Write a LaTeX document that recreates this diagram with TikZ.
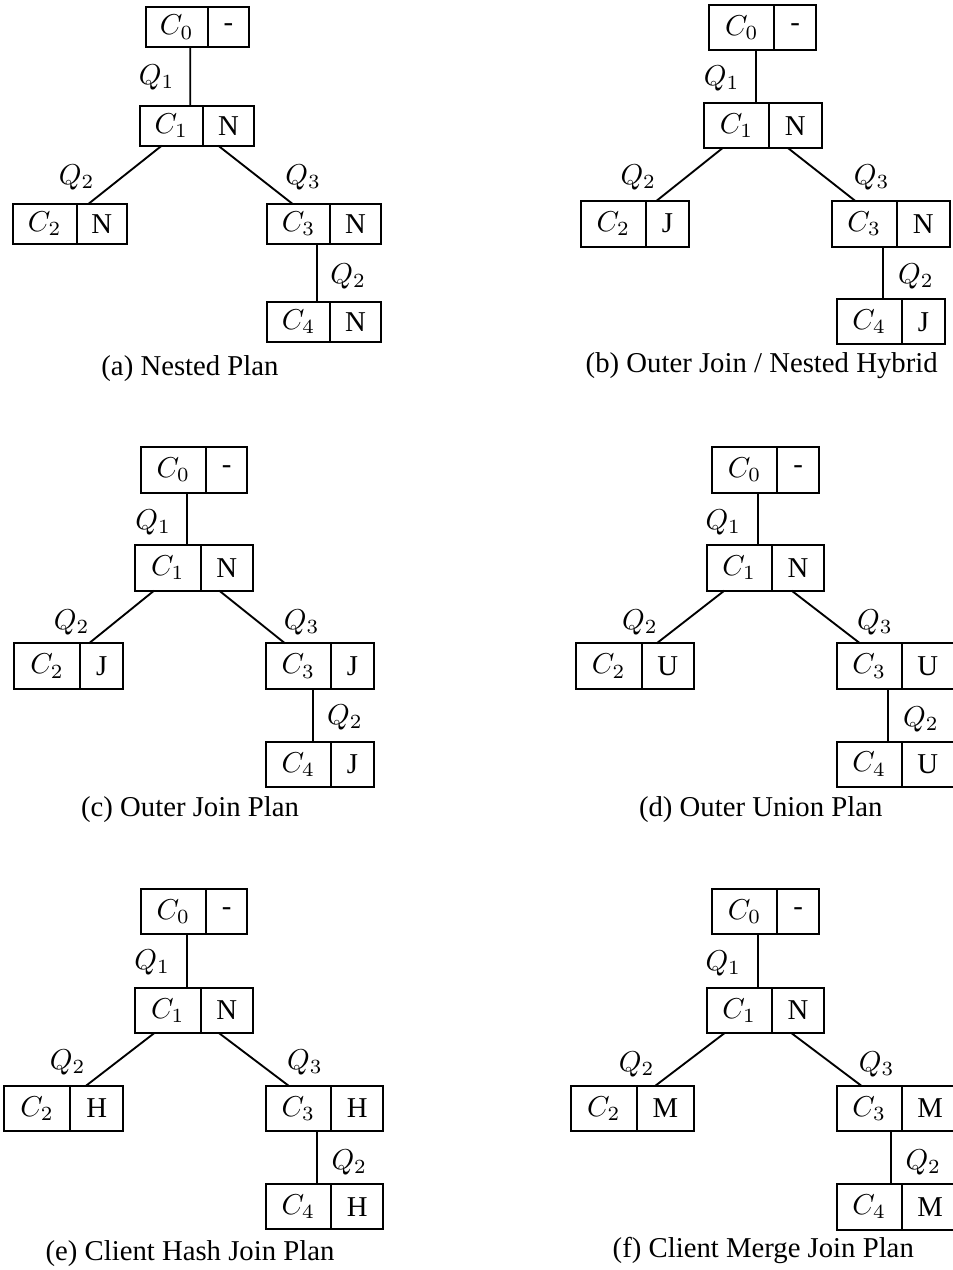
\documentclass[tikz,border=0pt]{standalone}
\usepackage{fontspec}
\setmainfont{Liberation Serif}
\usetikzlibrary{calc}

% one drawing unit
\newcommand\pxu{0.348pt}

\tikzset{
  cell/.style={draw, line width=0.7pt, rectangle, inner sep=0pt, outer sep=0pt,
               anchor=north west, font=\fontsize{10}{12}\selectfont},
  link/.style={line width=0.65pt},
  qlabel/.style={inner sep=0pt, font=\fontsize{10}{12}\selectfont},
  caption/.style={inner sep=0pt, font=\fontsize{10}{12}\selectfont},
}

% \record{name}{x}{y}{left width}{right width}{height}{class}{method}
\newcommand\record[8]{%
  \node[cell, minimum width=#4*\pxu, minimum height=#6*\pxu] (#1) at (#2,#3) {$#7$};
  \node[cell, minimum width=#5*\pxu, minimum height=#6*\pxu] (#1r) at (#1.north east) {#8};
}
% \conn{parent}{offset}{child}{offset}
\newcommand\conn[4]{%
  \draw[link] ($(#1.south west)+(#2,0)$) -- ($(#3.north west)+(#4,0)$);
}

\begin{document}
\begin{tikzpicture}[x=0.348pt, y=-0.348pt]
\useasboundingbox (0,0) rectangle (953,1270);
\clip (0,0) rectangle (953,1270);

% ---------------- (a) Nested Plan ----------------
\record{a0}{145.7}{7.3}{62}{41.3}{39.7}{C_0}{-}
\record{a1}{140}{105.7}{62.7}{51.6}{40}{C_1}{N}
\record{a2}{12.7}{204}{64}{50}{40}{C_2}{N}
\record{a3}{267.3}{204}{62.7}{51}{40}{C_3}{N}
\record{a4}{267.3}{302}{62.7}{51}{40}{C_4}{N}
\conn{a0}{44.6}{a1}{50.3}
\conn{a1}{21.7}{a2}{75.6}
\conn{a1}{78.3}{a3}{25.4}
\conn{a3}{50}{a4}{50}
\node[qlabel] (aq1) at (156.7,77.5) {$Q_1$};
\node[qlabel] (aq2) at (76.7,177.5) {$Q_2$};
\node[qlabel] (aq3) at (303.3,177.5) {$Q_3$};
\node[qlabel] (aq4) at (348.3,276) {$Q_2$};
\node[caption] (acap) at (190,368.3) {(a) Nested Plan};

% ---------------- (b) Outer Join / Nested Hybrid ----------------
\record{b0}{709.3}{4.7}{65}{41.7}{45.3}{C_0}{-}
\record{b1}{704}{103.3}{65}{52.7}{45}{C_1}{N}
\record{b2}{580.7}{200.7}{65.3}{43}{46}{C_2}{J}
\record{b3}{831.7}{200.7}{65}{53.3}{46}{C_3}{N}
\record{b4}{836.7}{299.3}{65}{43.3}{45}{C_4}{J}
\conn{b0}{46.4}{b1}{51.7}
\conn{b1}{18.3}{b2}{76}
\conn{b1}{84.3}{b3}{23.3}
\conn{b3}{51.6}{b4}{46.6}
\node[qlabel] (bq1) at (721.7,78) {$Q_1$};
\node[qlabel] (bq2) at (638.3,177.5) {$Q_2$};
\node[qlabel] (bq3) at (871.7,177.5) {$Q_3$};
\node[qlabel] (bq4) at (916,276.5) {$Q_2$};
\node[caption] (bcap) at (761.7,365.5) {(b) Outer Join / Nested Hybrid};

% ---------------- (c) Outer Join Plan ----------------
\record{c0}{140.7}{446.7}{65.3}{41.3}{46}{C_0}{-}
\record{c1}{135}{545}{65.7}{52}{45.7}{C_1}{N}
\record{c2}{14.3}{643.3}{65.7}{43.3}{45.7}{C_2}{J}
\record{c3}{265.7}{643.3}{65.3}{43}{45.7}{C_3}{J}
\record{c4}{265.7}{741.7}{65.3}{43}{45.7}{C_4}{J}
\conn{c0}{46}{c1}{51.7}
\conn{c1}{19}{c2}{74.7}
\conn{c1}{84.3}{c3}{19.3}
\conn{c3}{47}{c4}{47}
\node[qlabel] (cq1) at (153.3,522) {$Q_1$};
\node[qlabel] (cq2) at (71.7,622.5) {$Q_2$};
\node[qlabel] (cq3) at (301.7,622.5) {$Q_3$};
\node[qlabel] (cq4) at (345,717.5) {$Q_2$};
\node[caption] (ccap) at (190,810) {(c) Outer Join Plan};

% ---------------- (d) Outer Union Plan ----------------
\record{d0}{711.7}{446.7}{65.7}{41.7}{46}{C_0}{-}
\record{d1}{706.7}{545}{65}{52.7}{45.7}{C_1}{N}
\record{d2}{575.7}{643.3}{66}{52.3}{45.7}{C_2}{U}
\record{d3}{836.7}{643.3}{65}{52}{45.7}{C_3}{U}
\record{d4}{836.7}{741.7}{65}{52}{45}{C_4}{U}
\conn{d0}{46}{d1}{51}
\conn{d1}{17.6}{d2}{81}
\conn{d1}{85}{d3}{23.3}
\conn{d3}{51.6}{d4}{51.6}
\node[qlabel] (dq1) at (723.3,522) {$Q_1$};
\node[qlabel] (dq2) at (640,622.5) {$Q_2$};
\node[qlabel] (dq3) at (875,622.5) {$Q_3$};
\node[qlabel] (dq4) at (921,719) {$Q_2$};
\node[caption] (dcap) at (760.7,810) {(d) Outer Union Plan};

% ---------------- (e) Client Hash Join Plan ----------------
\record{e0}{140.7}{889.3}{65.3}{41.3}{45}{C_0}{-}
\record{e1}{135}{987.7}{65.7}{52}{45.6}{C_1}{N}
\record{e2}{4.3}{1086}{65.7}{53.3}{45}{C_2}{H}
\record{e3}{265.7}{1086}{65.3}{52.3}{45}{C_3}{H}
\record{e4}{265.7}{1184}{65.3}{52.3}{45.3}{C_4}{H}
\conn{e0}{46}{e1}{51.7}
\conn{e1}{19}{e2}{81.4}
\conn{e1}{84.3}{e3}{23.3}
\conn{e3}{51.6}{e4}{51.6}
\node[qlabel] (eq1) at (152.3,962.5) {$Q_1$};
\node[qlabel] (eq2) at (67.7,1062.5) {$Q_2$};
\node[qlabel] (eq3) at (305,1062.5) {$Q_3$};
\node[qlabel] (eq4) at (349.3,1162.5) {$Q_2$};
\node[caption] (ecap) at (190,1253.3) {(e) Client Hash Join Plan};

% ---------------- (f) Client Merge Join Plan ----------------
\record{f0}{711.7}{889.3}{65.7}{41.7}{45}{C_0}{-}
\record{f1}{706.7}{987.7}{65}{52.6}{45.6}{C_1}{N}
\record{f2}{571}{1086}{65.7}{57.3}{45}{C_2}{M}
\record{f3}{836.7}{1086}{65}{57}{45}{C_3}{M}
\record{f4}{836.7}{1184}{65}{57}{46}{C_4}{M}
\conn{f0}{46}{f1}{51}
\conn{f1}{17.6}{f2}{84}
\conn{f1}{85}{f3}{25}
\conn{f3}{54.3}{f4}{54.3}
\node[qlabel] (fq1) at (723.3,963.5) {$Q_1$};
\node[qlabel] (fq2) at (636.7,1064) {$Q_2$};
\node[qlabel] (fq3) at (876.7,1064) {$Q_3$};
\node[qlabel] (fq4) at (923.3,1162.5) {$Q_2$};
\node[caption] (fcap) at (763.3,1250.5) {(f) Client Merge Join Plan};

\end{tikzpicture}
\end{document}
